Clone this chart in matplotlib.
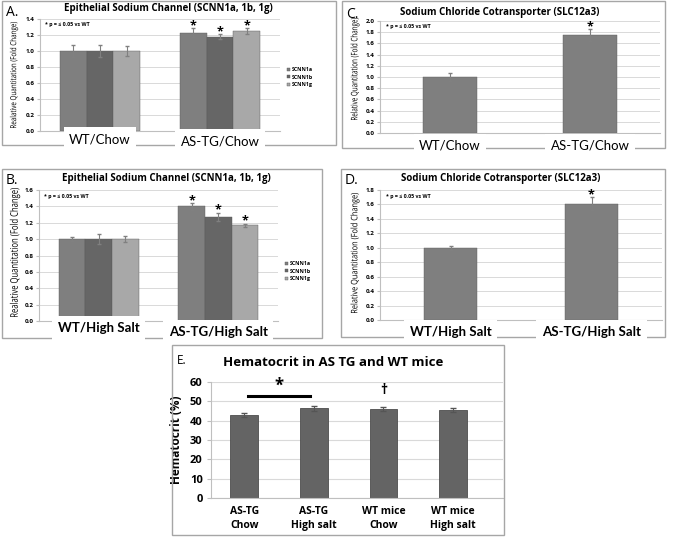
import numpy as np
import matplotlib.pyplot as plt
from matplotlib.patches import Rectangle, PathPatch
from matplotlib.textpath import TextPath
from matplotlib.font_manager import FontProperties
from matplotlib.transforms import Affine2D

W, H = 675, 543

# ---- data ----
genes = ['SCNN1a', 'SCNN1b', 'SCNN1g']
enac_colors = ['#7f7f7f', '#666666', '#a8a8a8']

chow_groups = ['WT/Chow', 'AS-TG/Chow']
enac_chow = [[1.00, 1.23], [1.00, 1.18], [1.00, 1.25]]
enac_chow_err = [[0.07, 0.06], [0.07, 0.03], [0.06, 0.04]]

salt_groups = ['WT/High Salt', 'AS-TG/High Salt']
enac_salt = [[1.00, 1.40], [1.00, 1.27], [1.00, 1.17]]
enac_salt_err = [[0.02, 0.04], [0.06, 0.05], [0.04, 0.02]]

ncc_chow = [1.00, 1.75]
ncc_chow_err = [0.07, 0.10]
ncc_salt = [1.00, 1.61]
ncc_salt_err = [0.03, 0.09]

hct_groups = ['AS-TG\nChow', 'AS-TG\nHigh salt', 'WT mice\nChow', 'WT mice\nHigh salt']
hct = [43.0, 46.4, 46.0, 45.7]
hct_err = [1.2, 1.3, 0.9, 1.1]

fig = plt.figure(figsize=(6.75, 5.43), dpi=100)
fig.patch.set_facecolor('white')
plt.rcParams['font.family'] = ['Open Sans', 'DejaVu Sans']


def px_axes(x0, y0, x1, y1):
    return fig.add_axes([x0 / W, 1 - y1 / H, (x1 - x0) / W, (y1 - y0) / H])


def frame(x0, y0, x1, y1):
    fig.patches.append(Rectangle((x0 / W, 1 - y1 / H), (x1 - x0) / W, (y1 - y0) / H,
                                 transform=fig.transFigure, fill=False,
                                 edgecolor='#a6a6a6', lw=1.0, zorder=0))


def ftext(x, y, s, **kw):
    fig.text(x / W, 1 - y / H, s, **kw)


def narrow_vtext(xc, y0, y1, s, height_pt, weight='normal'):
    # vertical text squeezed to run from y0 to y1 (pixels from top)
    tp = TextPath((0, 0), s, size=height_pt, prop=FontProperties(family='Open Sans', weight=weight))
    ext = tp.get_extents()
    k = 100 / 72.0
    sx = (y1 - y0) / (ext.width * k)
    tr = (Affine2D().translate(-ext.x0 - ext.width / 2, -ext.y0 - ext.height / 2)
          .scale(k * sx, k).rotate_deg(90)
          .translate(xc, H - (y0 + y1) / 2))
    fig.patches.append(PathPatch(tp, transform=tr, facecolor='black', edgecolor='none', lw=0))


def style(ax, ymax, step, fs):
    ax.set_ylim(0, ymax)
    ax.set_yticks(np.arange(0, ymax + step / 2, step))
    ax.set_yticklabels(['%.1f' % v for v in np.arange(0, ymax + step / 2, step)],
                       fontsize=fs, fontweight='bold')
    ax.yaxis.grid(True, color='#d9d9d9', lw=0.7)
    ax.set_axisbelow(True)
    for s in ['top', 'right']:
        ax.spines[s].set_visible(False)
    ax.spines['left'].set_color('#bfbfbf')
    ax.spines['bottom'].set_color('#bfbfbf')
    ax.tick_params(axis='y', length=2, color='#bfbfbf', pad=2)
    ax.tick_params(axis='x', length=0)
    ax.set_xticks([])


def enac_panel(box, vals, errs, groups, ymax, title, letter, ylabel, label_y, legend_pos, lw8):
    ax = px_axes(*box)
    x = np.arange(len(groups))
    w = 0.222
    for i, g in enumerate(genes):
        ax.bar(x + (i - 1) * w, vals[i], w, yerr=errs[i], color=enac_colors[i],
               edgecolor='#5a5a5a', lw=0.3, label=g,
               error_kw=dict(ecolor='#808080', lw=0.8, capsize=1.5))
        ax.text(x[1] + (i - 1) * w, vals[i][1] + errs[i][1] + 0.02 * ymax, '*',
                ha='center', va='center', fontsize=9, fontweight='bold')
    ax.set_xlim(-0.5, 1.5)
    style(ax, ymax, 0.2, 4.5)
    ax.text(0.02, 0.95, '* p = \u2264 0.05 vs WT', transform=ax.transAxes,
            fontsize=3.8, fontweight='bold', va='center')
    ax.legend(loc='center left', bbox_to_anchor=legend_pos, frameon=False,
              handlelength=0.5, handleheight=0.5, handletextpad=0.4,
              labelspacing=0.5, prop={'size': 3.8, 'weight': 'bold'})
    for xi, g in zip(x, groups):
        xp = box[0] + (xi + 0.5) / 2 * (box[2] - box[0])
        ftext(xp, label_y[xi], g, ha='center', va='center', fontsize=9.5,
              family=['Lato', 'DejaVu Sans'], fontweight=lw8,
              bbox=dict(facecolor='white', edgecolor='none', pad=4))
    ftext((box[0] + box[2]) / 2 + 8, title[1], title[0], ha='center', va='center',
          fontsize=7, fontweight='bold')
    ftext(letter[1], letter[2], letter[0], fontsize=10, va='center')
    narrow_vtext(ylabel[1], ylabel[2], ylabel[3], ylabel[0], ylabel[4])
    return ax


def ncc_panel(box, vals, errs, groups, ymax, title_y, letter, ylabel_span, label_y, lw8):
    ax = px_axes(*box)
    x = np.arange(len(groups))
    ax.bar(x, vals, 0.38, yerr=errs, color='#7f7f7f', edgecolor='#5a5a5a', lw=0.3,
           error_kw=dict(ecolor='#808080', lw=0.8, capsize=1.5))
    ax.text(x[1], vals[1] + errs[1] + 0.02 * ymax, '*', ha='center', va='center',
            fontsize=9, fontweight='bold')
    ax.set_xlim(-0.5, 1.5)
    style(ax, ymax, 0.2, 4.5)
    ax.text(0.02, 0.95, '* p = \u2264 0.05 vs WT', transform=ax.transAxes,
            fontsize=3.8, fontweight='bold', va='center')
    for xi, g in zip(x, groups):
        xp = box[0] + (xi + 0.5) / 2 * (box[2] - box[0])
        ftext(xp, label_y, g, ha='center', va='center', fontsize=9.5,
              family=['Lato', 'DejaVu Sans'], fontweight=lw8,
              bbox=dict(facecolor='white', edgecolor='none', pad=4))
    ftext((box[0] + box[2]) / 2 - 20, title_y, 'Sodium Chloride Cotransporter (SLC12a3)',
          ha='center', va='center', fontsize=7, fontweight='bold')
    ftext(letter[1], letter[2], letter[0], fontsize=10, va='center')
    narrow_vtext(355, ylabel_span[0], ylabel_span[1],
                 'Relative Quantitation (Fold Change)', 6.5)
    return ax


# ---- frames ----
frame(2, 1, 336, 145)
frame(342, 1, 665, 148)
frame(2, 169, 322, 338)
frame(341, 169, 665, 337)
frame(172, 345, 504, 535)

# ---- A ----
enac_panel((40, 19, 280, 131), enac_chow, enac_chow_err, chow_groups, 1.4,
           ('Epithelial Sodium Channel (SCNN1a, 1b, 1g)', 9), ('A.', 6, 13),
           ('Realative Quantitation (Fold Change)', 14, 22, 128, 6),
           [139, 141], (1.01, 0.48), 'normal')

# ---- B ----
enac_panel((39, 190, 278, 321), enac_salt, enac_salt_err, salt_groups, 1.6,
           ('Epithelial Sodium Channel (SCNN1a, 1b, 1g)', 179), ('B.', 6, 181),
           ('Realative Quantitation (Fold Change)', 15, 188, 317, 7.5),
           [328, 332], (1.01, 0.38), 'bold')

# ---- C ----
ncc_panel((380, 21, 660, 133), ncc_chow, ncc_chow_err, chow_groups, 2.0, 12,
          ('C.', 346, 15), (18, 120), 146, 'normal')

# ---- D ----
ncc_panel((380, 190, 662, 320), ncc_salt, ncc_salt_err, salt_groups, 1.8, 178,
          ('D.', 345, 180), (193, 313), 332, 'bold')

# ---- E ----
axe = px_axes(211, 382, 503, 498)
xe = np.arange(len(hct))
axe.bar(xe, hct, 0.4, yerr=hct_err, color='#646464', edgecolor='#4d4d4d', lw=0.6,
        error_kw=dict(ecolor='#555555', lw=0.8, capsize=2))
axe.set_xlim(-0.48, 3.72)
axe.set_ylim(0, 60)
axe.set_yticks(np.arange(0, 61, 10))
axe.set_yticklabels([str(v) for v in range(0, 61, 10)], fontsize=8, fontweight='bold')
axe.set_xticks(xe)
axe.set_xticklabels(hct_groups, fontsize=7.5, fontweight='bold', linespacing=1.3)
axe.yaxis.grid(True, color='#d9d9d9', lw=0.8)
axe.set_axisbelow(True)
for s in ['top', 'right']:
    axe.spines[s].set_visible(False)
axe.spines['left'].set_color('#bfbfbf')
axe.spines['bottom'].set_color('#bfbfbf')
axe.tick_params(axis='y', length=3, color='#bfbfbf', pad=3)
axe.tick_params(axis='x', length=0, pad=6)
axe.set_ylabel('Hematocrit (%)', fontsize=8.5, fontweight='bold', labelpad=5)
axe.plot([0.05, 0.95], [52.8, 52.8], color='black', lw=2.2)
axe.text(0.5, 53.5, '*', ha='center', va='bottom', fontsize=12, fontweight='bold')
axe.text(2.0, 52.5, '\u2020', ha='center', va='bottom', fontsize=10, fontweight='bold')
ftext(333, 363, 'Hematocrit in AS TG and WT mice', ha='center', va='center',
      fontsize=9.5, fontweight='bold')
ftext(177, 360, 'E.', fontsize=8.5, va='center')

fig.savefig('out.png', dpi=100)
